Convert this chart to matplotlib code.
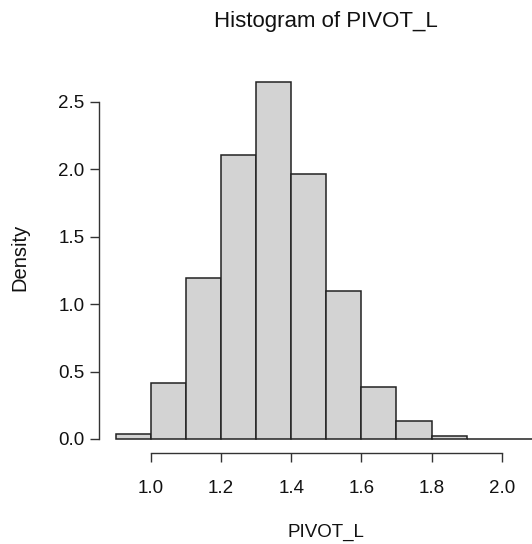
import matplotlib
matplotlib.use("Agg")
import matplotlib.pyplot as plt

plt.rcParams['font.family'] = ['Liberation Sans', 'DejaVu Sans']

# bin edges and densities
bin_edges = [0.9, 1.0, 1.1, 1.2, 1.3, 1.4, 1.5, 1.6, 1.7, 1.8, 1.9, 2.0, 2.1]
density = [0.035, 0.415, 1.194, 2.107, 2.648, 1.966, 1.098, 0.386, 0.134, 0.02, 0.003, 0.002]

x_ticks = [1.0, 1.2, 1.4, 1.6, 1.8, 2.0]
y_ticks = [0.0, 0.5, 1.0, 1.5, 2.0, 2.5]

W, H = 532, 544
fig = plt.figure(figsize=(W / 100, H / 100), dpi=100)
# axes box in pixels: left spine x=99, bottom spine y=453, top y=70
ax = fig.add_axes([99 / W, (H - 453) / H, (W - 99) / W, (453 - 70) / H])

lefts = bin_edges[:-1]
widths = [b - a for a, b in zip(bin_edges[:-1], bin_edges[1:])]
ax.bar(lefts, density, width=widths, align='edge', color='#d3d3d3',
       edgecolor='#222222', linewidth=1.1, clip_on=True)

ax.set_xlim(0.8517, 2.0864)
ax.set_ylim(-0.1039, 2.737)

for s in ['top', 'right']:
    ax.spines[s].set_visible(False)
ax.spines['left'].set_bounds(0, 2.5)
ax.spines['bottom'].set_bounds(1.0, 2.0)
for s in ['left', 'bottom']:
    ax.spines[s].set_color('#333333')
    ax.spines[s].set_linewidth(1.0)

ax.set_xticks(x_ticks)
ax.set_xticklabels([f"{v:.1f}" for v in x_ticks])
ax.set_yticks(y_ticks)
ax.set_yticklabels([f"{v:.1f}" for v in y_ticks])
ax.tick_params(axis='both', labelsize=13.5, length=6.5, width=1.0,
               color='#333333', labelcolor='#111111')
ax.tick_params(axis='x', pad=13)
ax.tick_params(axis='y', pad=4)

fig.text(326 / W, 1 - 22 / H, "Histogram of PIVOT_L", ha='center', va='center',
         fontsize=16, color='#111111')
fig.text(326 / W, 1 - 532 / H, "PIVOT_L", ha='center', va='center',
         fontsize=13.5, color='#111111')
fig.text(20 / W, 1 - 257 / H, "Density", ha='center', va='center',
         rotation=90, fontsize=14.5, color='#111111')

fig.savefig("out.png", dpi=100)
